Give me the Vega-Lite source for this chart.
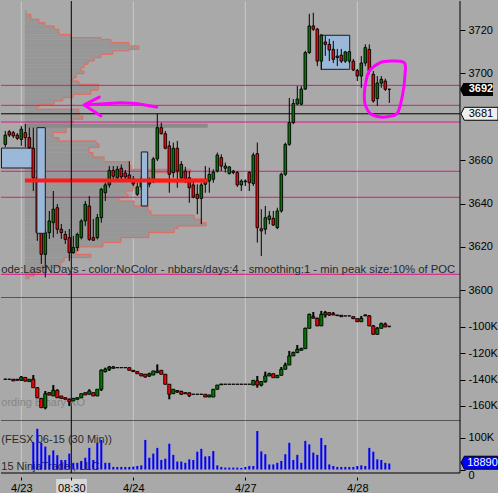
{
"$schema":"https://vega.github.io/schema/vega-lite/v6.json",
"padding":0,
"background":"#a9a9a9",
"bounds":"flush",
"spacing":0,
"config":{"view":{"fill":"#a9a9a9","stroke":null},"axis":{"labelFont":"Liberation Sans"},"text":{"font":"Liberation Sans"},"scale":{"continuousPadding":0}},
"resolve":{"scale":{"x":"independent","y":"independent"}},
"datasets":{
"bars":[
{"i":0,"o":3666.6,"h":3669.8,"l":3665.6,"c":3668.9,"do":-139.7,"dh":-139.5,"dl":-141.2,"dc":-141.0},
{"i":1,"o":3667.3,"h":3673.5,"l":3666.1,"c":3671.6,"do":-139.7,"dh":-139.3,"dl":-140.0,"dc":-139.7},
{"i":2,"o":3673.1,"h":3673.9,"l":3670.7,"c":3671.6,"do":-139.7,"dh":-139.5,"dl":-139.9,"dc":-139.7},
{"i":3,"o":3672.7,"h":3673.5,"l":3670.2,"c":3671.2,"do":-139.7,"dh":-139.5,"dl":-141.0,"dc":-141.0},
{"i":4,"o":3671.6,"h":3672.5,"l":3669.3,"c":3670.1,"do":-139.7,"dh":-139.5,"dl":-140.5,"dc":-140.5},
{"i":5,"o":3669.6,"h":3675.8,"l":3666.6,"c":3674.3,"do":-140.5,"dh":-137.2,"dl":-141.0,"dc":-138.0},
{"i":6,"o":3672.7,"h":3676.7,"l":3666.1,"c":3670.4,"do":-138.3,"dh":-138.0,"dl":-141.5,"dc":-141.0},
{"i":7,"o":3670.4,"h":3675.0,"l":3665.2,"c":3665.8,"do":-141.5,"dh":-139.7,"dl":-141.5,"dc":-139.7},
{"i":8,"o":3665.5,"h":3675.0,"l":3645.8,"c":3651.9,"do":-139.7,"dh":-136.5,"dl":-146.1,"dc":-146.1,"v":86},
{"i":9,"o":3651.9,"h":3655.0,"l":3622.8,"c":3626.6,"do":-146.1,"dh":-146.0,"dl":-154.0,"dc":-153.7,"v":128},
{"i":10,"o":3626.6,"h":3629.7,"l":3612.2,"c":3616.6,"do":-154.2,"dh":-154.0,"dl":-161.5,"dc":-161.3,"v":84},
{"i":11,"o":3616.6,"h":3628.0,"l":3606.0,"c":3626.6,"do":-161.3,"dh":-148.6,"dl":-162.5,"dc":-150.7,"v":72},
{"i":12,"o":3626.6,"h":3636.6,"l":3623.7,"c":3632.0,"do":-149.9,"dh":-149.5,"dl":-152.0,"dc":-151.6,"v":45},
{"i":13,"o":3631.2,"h":3645.8,"l":3624.3,"c":3637.4,"do":-152.4,"dh":-144.1,"dl":-152.4,"dc":-148.1,"v":60},
{"i":14,"o":3638.1,"h":3639.8,"l":3626.0,"c":3628.2,"do":-148.1,"dh":-147.3,"dl":-153.7,"dc":-153.7,"v":45},
{"i":15,"o":3628.2,"h":3630.6,"l":3623.7,"c":3626.6,"do":-152.4,"dh":-152.4,"dl":-154.2,"dc":-154.2,"v":30},
{"i":16,"o":3625.8,"h":3627.4,"l":3621.4,"c":3623.5,"do":-153.7,"dh":-153.7,"dl":-154.9,"dc":-154.9,"v":30},
{"i":17,"o":3624.3,"h":3628.3,"l":3613.5,"c":3617.4,"do":-154.9,"dh":-154.2,"dl":-160.0,"dc":-156.7,"v":50},
{"i":18,"o":3617.4,"h":3625.1,"l":3616.8,"c":3619.7,"do":-156.2,"dh":-154.2,"dl":-156.2,"dc":-154.2,"v":21},
{"i":19,"o":3619.7,"h":3626.6,"l":3618.1,"c":3625.8,"do":-154.9,"dh":-153.7,"dl":-154.9,"dc":-153.7,"v":21},
{"i":20,"o":3624.3,"h":3632.8,"l":3623.5,"c":3632.0,"do":-153.7,"dh":-150.7,"dl":-153.7,"dc":-150.7,"v":27},
{"i":21,"o":3632.0,"h":3641.2,"l":3629.7,"c":3639.7,"do":-149.9,"dh":-149.9,"dl":-151.6,"dc":-151.6,"v":37},
{"i":22,"o":3638.9,"h":3643.5,"l":3622.8,"c":3623.5,"do":-151.1,"dh":-147.3,"dl":-151.1,"dc":-148.6,"v":68},
{"i":23,"o":3624.3,"h":3632.9,"l":3622.8,"c":3623.1,"do":-149.9,"dh":-149.9,"dl":-152.4,"dc":-152.4,"v":30},
{"i":24,"o":3624.3,"h":3635.2,"l":3623.5,"c":3633.5,"do":-152.4,"dh":-147.3,"dl":-152.4,"dc":-147.3,"v":84},
{"i":25,"o":3633.5,"h":3647.3,"l":3631.2,"c":3646.6,"do":-147.3,"dh":-132.1,"dl":-148.6,"dc":-132.9,"v":93},
{"i":26,"o":3645.0,"h":3649.6,"l":3641.2,"c":3648.6,"do":-133.9,"dh":-130.9,"dl":-134.5,"dc":-132.1,"v":21},
{"i":27,"o":3648.6,"h":3657.3,"l":3647.3,"c":3655.3,"do":-132.1,"dh":-129.6,"dl":-133.4,"dc":-130.4,"v":21},
{"i":28,"o":3655.3,"h":3657.3,"l":3651.3,"c":3652.6,"do":-130.4,"dh":-129.6,"dl":-131.4,"dc":-131.4,"v":8},
{"i":29,"o":3651.9,"h":3657.3,"l":3650.8,"c":3655.8,"do":-130.9,"dh":-130.9,"dl":-130.9,"dc":-130.9,"v":8},
{"i":30,"o":3656.3,"h":3658.0,"l":3650.5,"c":3652.3,"do":-130.9,"dh":-130.9,"dl":-130.9,"dc":-130.9,"v":8},
{"i":31,"o":3654.1,"h":3655.5,"l":3651.0,"c":3652.3,"do":-130.9,"dh":-130.9,"dl":-130.9,"dc":-130.9,"v":8},
{"i":32,"o":3653.2,"h":3659.6,"l":3650.4,"c":3651.3,"do":-130.9,"dh":-130.9,"dl":-132.9,"dc":-132.9,"v":8},
{"i":33,"o":3651.3,"h":3652.7,"l":3648.1,"c":3649.0,"do":-132.9,"dh":-132.9,"dl":-133.9,"dc":-133.9,"v":9},
{"i":34,"o":3644.3,"h":3649.6,"l":3643.5,"c":3647.7,"do":-133.9,"dh":-133.9,"dl":-135.5,"dc":-135.5,"v":11},
{"i":35,"o":3647.7,"h":3652.5,"l":3646.0,"c":3651.3,"do":-135.5,"dh":-135.5,"dl":-137.2,"dc":-137.2,"v":13},
{"i":36,"o":3651.9,"h":3653.0,"l":3648.5,"c":3649.6,"do":-135.9,"dh":-135.9,"dl":-138.4,"dc":-138.0,"v":93},
{"i":37,"o":3649.0,"h":3652.0,"l":3647.5,"c":3650.4,"do":-137.2,"dh":-134.7,"dl":-138.0,"dc":-135.5,"v":37},
{"i":38,"o":3650.4,"h":3661.5,"l":3649.5,"c":3660.6,"do":-136.5,"dh":-133.4,"dl":-136.5,"dc":-133.4,"v":50},
{"i":39,"o":3660.6,"h":3681.4,"l":3659.6,"c":3675.0,"do":-134.7,"dh":-128.4,"dl":-135.0,"dc":-133.4,"v":68},
{"i":40,"o":3675.0,"h":3677.3,"l":3671.9,"c":3672.2,"do":-132.9,"dh":-132.9,"dl":-135.9,"dc":-135.9,"v":30},
{"i":41,"o":3672.2,"h":3673.5,"l":3665.0,"c":3665.5,"do":-135.9,"dh":-135.9,"dl":-143.5,"dc":-143.5,"v":34},
{"i":42,"o":3666.6,"h":3668.9,"l":3645.0,"c":3653.5,"do":-143.5,"dh":-143.5,"dl":-154.9,"dc":-151.1,"v":81},
{"i":43,"o":3654.3,"h":3668.1,"l":3651.9,"c":3665.5,"do":-150.7,"dh":-147.3,"dl":-150.7,"dc":-147.3,"v":46},
{"i":44,"o":3665.5,"h":3668.9,"l":3647.3,"c":3655.0,"do":-149.4,"dh":-148.0,"dl":-150.0,"dc":-148.3,"v":25},
{"i":45,"o":3651.9,"h":3659.6,"l":3650.4,"c":3658.1,"do":-149.0,"dh":-148.3,"dl":-151.6,"dc":-151.1,"v":25},
{"i":46,"o":3655.0,"h":3657.0,"l":3649.5,"c":3651.3,"do":-149.9,"dh":-149.9,"dl":-150.7,"dc":-150.7,"v":21},
{"i":47,"o":3651.9,"h":3655.0,"l":3640.4,"c":3647.3,"do":-150.0,"dh":-149.9,"dl":-153.2,"dc":-152.0,"v":32},
{"i":48,"o":3648.6,"h":3651.2,"l":3642.4,"c":3643.0,"do":-151.1,"dh":-151.1,"dl":-151.1,"dc":-151.1,"v":30},
{"i":49,"o":3644.3,"h":3648.9,"l":3635.1,"c":3642.4,"do":-151.1,"dh":-151.1,"dl":-151.1,"dc":-151.1,"v":56},
{"i":50,"o":3642.4,"h":3649.6,"l":3630.5,"c":3648.6,"do":-151.1,"dh":-151.1,"dl":-151.1,"dc":-151.1,"v":65},
{"i":51,"o":3648.9,"h":3657.3,"l":3645.0,"c":3651.2,"do":-151.1,"dh":-151.1,"dl":-153.2,"dc":-153.2,"v":41},
{"i":52,"o":3650.4,"h":3656.6,"l":3645.0,"c":3653.5,"do":-153.2,"dh":-151.6,"dl":-153.2,"dc":-151.6,"v":42},
{"i":53,"o":3651.2,"h":3655.8,"l":3649.6,"c":3654.6,"do":-153.2,"dh":-147.3,"dl":-153.2,"dc":-147.3,"v":58},
{"i":54,"o":3655.0,"h":3663.5,"l":3654.3,"c":3662.4,"do":-147.3,"dh":-144.1,"dl":-147.3,"dc":-144.1,"v":13},
{"i":55,"o":3661.2,"h":3662.7,"l":3655.0,"c":3657.3,"do":-143.9,"dh":-143.3,"dl":-143.9,"dc":-143.3,"v":8},
{"i":56,"o":3656.3,"h":3658.9,"l":3654.3,"c":3657.3,"do":-143.5,"dh":-143.5,"dl":-143.5,"dc":-143.5,"v":6},
{"i":57,"o":3653.8,"h":3657.3,"l":3653.5,"c":3656.9,"do":-143.5,"dh":-143.5,"dl":-143.5,"dc":-143.5,"v":6},
{"i":58,"o":3655.0,"h":3655.5,"l":3653.5,"c":3654.3,"do":-143.5,"dh":-143.5,"dl":-143.5,"dc":-143.5,"v":6},
{"i":59,"o":3654.3,"h":3655.0,"l":3647.7,"c":3648.6,"do":-143.5,"dh":-143.5,"dl":-143.5,"dc":-143.5,"v":6},
{"i":60,"o":3648.6,"h":3651.2,"l":3645.8,"c":3650.4,"do":-143.5,"dh":-143.5,"dl":-143.5,"dc":-143.5,"v":5},
{"i":61,"o":3650.4,"h":3651.2,"l":3648.1,"c":3650.1,"do":-143.5,"dh":-143.5,"dl":-143.5,"dc":-143.5,"v":8},
{"i":62,"o":3654.3,"h":3655.0,"l":3645.8,"c":3649.6,"do":-143.5,"dh":-143.5,"dl":-143.5,"dc":-143.5,"v":11},
{"i":63,"o":3649.2,"h":3663.5,"l":3648.1,"c":3662.4,"do":-144.1,"dh":-140.5,"dl":-144.1,"dc":-140.5,"v":11},
{"i":64,"o":3663.0,"h":3668.1,"l":3622.0,"c":3628.9,"do":-141.0,"dh":-137.2,"dl":-146.1,"dc":-144.1,"v":121},
{"i":65,"o":3628.4,"h":3637.4,"l":3615.8,"c":3627.4,"do":-144.1,"dh":-141.0,"dl":-145.1,"dc":-141.5,"v":57},
{"i":66,"o":3628.2,"h":3638.9,"l":3625.8,"c":3633.5,"do":-141.5,"dh":-133.9,"dl":-142.3,"dc":-137.2,"v":48},
{"i":67,"o":3632.7,"h":3636.6,"l":3630.5,"c":3634.3,"do":-137.2,"dh":-134.7,"dl":-137.2,"dc":-135.5,"v":16},
{"i":68,"o":3633.2,"h":3636.6,"l":3629.7,"c":3630.1,"do":-135.5,"dh":-135.5,"dl":-138.5,"dc":-138.5,"v":16},
{"i":69,"o":3628.9,"h":3638.1,"l":3628.2,"c":3636.6,"do":-138.5,"dh":-136.7,"dl":-138.5,"dc":-136.7,"v":21},
{"i":70,"o":3636.6,"h":3654.3,"l":3635.8,"c":3653.5,"do":-136.7,"dh":-130.4,"dl":-136.7,"dc":-132.1,"v":27},
{"i":71,"o":3653.5,"h":3668.1,"l":3652.7,"c":3667.3,"do":-132.1,"dh":-127.1,"dl":-132.1,"dc":-128.9,"v":48},
{"i":72,"o":3667.3,"h":3688.7,"l":3666.6,"c":3677.3,"do":-128.9,"dh":-118.2,"dl":-128.9,"dc":-122.0,"v":84},
{"i":73,"o":3677.3,"h":3688.2,"l":3676.6,"c":3686.1,"do":-122.0,"dh":-118.7,"dl":-122.0,"dc":-119.5,"v":30},
{"i":74,"o":3685.9,"h":3694.2,"l":3685.4,"c":3688.2,"do":-119.5,"dh":-113.7,"dl":-119.5,"dc":-116.9,"v":46},
{"i":75,"o":3685.8,"h":3694.2,"l":3685.4,"c":3692.8,"do":-117.7,"dh":-115.7,"dl":-117.7,"dc":-116.5,"v":21},
{"i":76,"o":3692.8,"h":3710.4,"l":3692.4,"c":3709.6,"do":-116.5,"dh":-100.5,"dl":-116.5,"dc":-101.0,"v":90},
{"i":77,"o":3709.6,"h":3727.5,"l":3709.0,"c":3721.9,"do":-101.0,"dh":-89.9,"dl":-101.0,"dc":-90.4,"v":79},
{"i":78,"o":3721.9,"h":3728.0,"l":3719.6,"c":3720.4,"do":-92.2,"dh":-88.6,"dl":-93.4,"dc":-93.4,"v":53},
{"i":79,"o":3720.4,"h":3721.0,"l":3703.4,"c":3705.7,"do":-93.4,"dh":-92.9,"dl":-99.2,"dc":-99.2,"v":46},
{"i":80,"o":3705.7,"h":3718.2,"l":3701.6,"c":3717.7,"do":-99.2,"dh":-87.8,"dl":-99.2,"dc":-90.4,"v":99},
{"i":81,"o":3714.5,"h":3717.3,"l":3708.1,"c":3713.4,"do":-90.9,"dh":-87.8,"dl":-92.9,"dc":-89.1,"v":77},
{"i":82,"o":3713.4,"h":3715.9,"l":3705.7,"c":3710.8,"do":-89.1,"dh":-89.1,"dl":-91.6,"dc":-90.9,"v":16},
{"i":83,"o":3711.1,"h":3715.0,"l":3704.8,"c":3706.5,"do":-90.0,"dh":-88.6,"dl":-90.9,"dc":-90.9,"v":11},
{"i":84,"o":3707.3,"h":3711.3,"l":3703.4,"c":3708.0,"do":-90.9,"dh":-90.9,"dl":-91.4,"dc":-91.4,"v":8},
{"i":85,"o":3708.4,"h":3711.3,"l":3704.8,"c":3705.7,"do":-91.1,"dh":-91.1,"dl":-92.2,"dc":-92.2,"v":8},
{"i":86,"o":3705.7,"h":3710.4,"l":3704.8,"c":3709.9,"do":-91.6,"dh":-91.6,"dl":-91.6,"dc":-91.6,"v":8},
{"i":87,"o":3705.7,"h":3710.4,"l":3704.8,"c":3710.0,"do":-91.6,"dh":-91.6,"dl":-91.6,"dc":-91.6,"v":8},
{"i":88,"o":3705.7,"h":3706.7,"l":3701.1,"c":3701.6,"do":-92.2,"dh":-92.2,"dl":-93.7,"dc":-93.7,"v":8},
{"i":89,"o":3701.4,"h":3702.1,"l":3696.5,"c":3698.8,"do":-93.7,"dh":-93.7,"dl":-96.0,"dc":-96.0,"v":11},
{"i":90,"o":3698.8,"h":3708.0,"l":3693.4,"c":3704.8,"do":-96.0,"dh":-91.6,"dl":-96.0,"dc":-93.4,"v":13},
{"i":91,"o":3704.8,"h":3713.4,"l":3703.4,"c":3711.9,"do":-91.6,"dh":-90.4,"dl":-91.6,"dc":-90.9,"v":11},
{"i":92,"o":3711.1,"h":3713.4,"l":3699.6,"c":3701.1,"do":-91.6,"dh":-90.9,"dl":-99.2,"dc":-99.2,"v":68},
{"i":93,"o":3699.6,"h":3701.1,"l":3686.5,"c":3687.3,"do":-99.2,"dh":-98.5,"dl":-105.6,"dc":-105.6,"v":56},
{"i":94,"o":3688.4,"h":3698.8,"l":3685.0,"c":3695.6,"do":-105.6,"dh":-100.0,"dl":-105.6,"dc":-101.0,"v":32},
{"i":95,"o":3695.5,"h":3698.8,"l":3693.4,"c":3697.3,"do":-101.0,"dh":-96.7,"dl":-101.0,"dc":-97.5,"v":30},
{"i":96,"o":3696.5,"h":3697.6,"l":3691.9,"c":3692.7,"do":-97.9,"dh":-96.7,"dl":-100.0,"dc":-100.0,"v":21},
{"i":97,"o":3692.7,"h":3692.9,"l":3686.4,"c":3692.7,"do":-99.5,"dh":-99.2,"dl":-100.3,"dc":-99.5,"v":18.89}
],
"profile":[
{"lo":3605.1,"hi":3606.6,"len":6.9},{"lo":3606.6,"hi":3608.2,"len":8.2},{"lo":3608.2,"hi":3610.5,"len":9.9},{"lo":3610.5,"hi":3613.2,"len":14.9},{"lo":3613.2,"hi":3615.1,"len":15.7},{"lo":3615.1,"hi":3616.6,"len":22.4},{"lo":3616.6,"hi":3618.1,"len":18.7},{"lo":3618.1,"hi":3620.0,"len":19.4},{"lo":3620.0,"hi":3622.0,"len":25.4},{"lo":3622.0,"hi":3624.3,"len":29.9},{"lo":3624.3,"hi":3626.6,"len":36.9},{"lo":3626.6,"hi":3628.6,"len":43.2},{"lo":3628.6,"hi":3629.7,"len":44.2},{"lo":3629.7,"hi":3631.2,"len":51.2},{"lo":3631.2,"hi":3632.8,"len":49.9},{"lo":3632.8,"hi":3634.7,"len":48.2},{"lo":3634.7,"hi":3636.6,"len":37.4},{"lo":3636.6,"hi":3638.9,"len":36.7},{"lo":3638.9,"hi":3641.2,"len":33.2},{"lo":3641.2,"hi":3642.7,"len":29.4},{"lo":3642.7,"hi":3644.3,"len":31.7},{"lo":3644.3,"hi":3645.8,"len":31.2},{"lo":3645.8,"hi":3647.3,"len":32.9},{"lo":3647.3,"hi":3649.6,"len":33.2},{"lo":3649.6,"hi":3651.3,"len":51.7},{"lo":3651.3,"hi":3654.2,"len":37.4},{"lo":3654.2,"hi":3655.8,"len":47.4},{"lo":3655.8,"hi":3657.8,"len":32.4},{"lo":3657.8,"hi":3659.3,"len":31.7},{"lo":3659.3,"hi":3661.5,"len":25.7},{"lo":3661.5,"hi":3663.5,"len":22.9},{"lo":3663.5,"hi":3665.8,"len":21.9},{"lo":3665.8,"hi":3667.6,"len":24.4},{"lo":3667.6,"hi":3668.9,"len":23.7},{"lo":3668.9,"hi":3670.4,"len":14.4},{"lo":3670.4,"hi":3672.7,"len":12.9},{"lo":3672.7,"hi":3675.8,"len":16.2},{"lo":3675.8,"hi":3678.9,"len":17.9},{"lo":3678.9,"hi":3680.4,"len":20.4},{"lo":3680.4,"hi":3683.5,"len":19.4},{"lo":3683.5,"hi":3684.5,"len":8.7},{"lo":3684.5,"hi":3685.8,"len":9.4},{"lo":3685.8,"hi":3687.3,"len":13.2},{"lo":3687.3,"hi":3688.8,"len":15.4},{"lo":3688.8,"hi":3690.4,"len":17.9},{"lo":3690.4,"hi":3692.2,"len":22.4},{"lo":3692.2,"hi":3693.8,"len":24.2},{"lo":3693.8,"hi":3695.0,"len":24.4},{"lo":3695.0,"hi":3696.5,"len":19.4},{"lo":3696.5,"hi":3698.0,"len":17.9},{"lo":3698.0,"hi":3699.9,"len":18.7},{"lo":3699.9,"hi":3701.1,"len":20.7},{"lo":3701.1,"hi":3702.7,"len":19.9},{"lo":3702.7,"hi":3704.2,"len":20.7},{"lo":3704.2,"hi":3705.7,"len":21.7},{"lo":3705.7,"hi":3707.3,"len":23.2},{"lo":3707.3,"hi":3708.8,"len":24.9},{"lo":3708.8,"hi":3710.4,"len":27.9},{"lo":3710.4,"hi":3711.1,"len":31.9},{"lo":3711.1,"hi":3712.7,"len":34.4},{"lo":3712.7,"hi":3714.2,"len":31.9},{"lo":3714.2,"hi":3715.7,"len":27.4},{"lo":3715.7,"hi":3716.5,"len":24.9},{"lo":3716.5,"hi":3718.0,"len":17.4},{"lo":3718.0,"hi":3720.4,"len":14.4},{"lo":3720.4,"hi":3721.9,"len":13.2},{"lo":3721.9,"hi":3723.4,"len":10.9},{"lo":3723.4,"hi":3725.0,"len":9.4},{"lo":3725.0,"hi":3727.3,"len":7.4},{"lo":3727.3,"hi":3729.1,"len":6.4}
],
"rects":[
{"n":"A","x1":0.05,"x2":7.85,"p1":3656.4,"p2":3665.6},
{"n":"B","x1":8.9,"x2":11.0,"p1":3626.3,"p2":3675.0},
{"n":"C","x1":35.0,"x2":36.6,"p1":3638.9,"p2":3663.8},
{"n":"D","x1":80.0,"x2":87.1,"p1":3701.9,"p2":3717.6}
],
"days":[{"g":5},{"g":33},{"g":61},{"g":89}]
},
"vconcat":[
{
"width":459,"height":297,
"layer":[
{"data":{"name":"days"},"mark":{"type":"rule","color":"#c9c9c9","strokeWidth":1},
 "encoding":{"x":{"field":"g","type":"quantitative","scale":{"domain":[-0.075,114.675],"nice":false,"zero":false,"padding":0},"axis":null}}},
{"data":{"name":"profile"},"mark":{"type":"rect","fill":"#979797","clip":true},
 "encoding":{"x":{"field":"len","type":"quantitative","scale":{"domain":[-0.075,114.675],"nice":false,"zero":false,"padding":0},"axis":null},"x2":{"datum":5.9},
 "y":{"field":"lo","type":"quantitative","scale":{"domain":[3596.47,3733.4],"nice":false,"zero":false},
  "axis":{"orient":"right","values":[3600,3620,3640,3660,3700,3720],"title":null,"grid":false,"domain":false,"tickSize":5,"tickColor":"#000000","labelPadding":3,"labelFontSize":11,"labelColor":"#000000","format":"d"}},
 "y2":{"field":"hi"}}},
{"data":{"name":"profile"},
 "mark":{"type":"line","color":"#e8685a","strokeWidth":1,"interpolate":"step-before","clip":true},
 "encoding":{"x":{"field":"len","type":"quantitative","scale":{"domain":[-0.075,114.675],"nice":false,"zero":false,"padding":0},"axis":null},
 "y":{"field":"lo","type":"quantitative","scale":{"domain":[3596.47,3733.4],"nice":false,"zero":false},
  "axis":{"orient":"right","values":[3600,3620,3640,3660,3700,3720],"title":null,"grid":false,"domain":false,"tickSize":5,"tickColor":"#000000","labelPadding":3,"labelFontSize":11,"labelColor":"#000000","format":"d"}},
 "order":{"field":"lo","type":"quantitative"}}},
{"data":{"name":"rects"},"transform":[{"filter":"datum.n == 'A' || datum.n == 'D'"}],
 "mark":{"type":"rect","fill":"#9cb8d8","stroke":"#1a1a1a","strokeWidth":1,"clip":true},
 "encoding":{"x":{"field":"x1","type":"quantitative","scale":{"domain":[-0.075,114.675],"nice":false,"zero":false,"padding":0},"axis":null},"x2":{"field":"x2"},
 "y":{"field":"p1","type":"quantitative","scale":{"domain":[3596.47,3733.4],"nice":false,"zero":false},
  "axis":{"orient":"right","values":[3600,3620,3640,3660,3700,3720],"title":null,"grid":false,"domain":false,"tickSize":5,"tickColor":"#000000","labelPadding":3,"labelFontSize":11,"labelColor":"#000000","format":"d"}},"y2":{"field":"p2"}}},
{"data":{"values":[{"p":3675.9,"a":5.9,"b":51.6}]},"mark":{"type":"rule","color":"#8a8a8a","strokeWidth":4},
 "encoding":{"x":{"field":"a","type":"quantitative","scale":{"domain":[-0.075,114.675],"nice":false,"zero":false,"padding":0},"axis":null},"x2":{"field":"b"},
 "y":{"field":"p","type":"quantitative","scale":{"domain":[3596.47,3733.4],"nice":false,"zero":false},
  "axis":{"orient":"right","values":[3600,3620,3640,3660,3700,3720],"title":null,"grid":false,"domain":false,"tickSize":5,"tickColor":"#000000","labelPadding":3,"labelFontSize":11,"labelColor":"#000000","format":"d"}}}},
{"data":{"values":[{"p":3694.5},{"p":3685.3},{"p":3677.6},{"p":3654.9},{"p":3642.9},{"p":3607.4}]},
 "mark":{"type":"rule","color":"#e0158a","strokeWidth":1},
 "encoding":{"y":{"field":"p","type":"quantitative","scale":{"domain":[3596.47,3733.4],"nice":false,"zero":false},
  "axis":{"orient":"right","values":[3600,3620,3640,3660,3700,3720],"title":null,"grid":false,"domain":false,"tickSize":5,"tickColor":"#000000","labelPadding":3,"labelFontSize":11,"labelColor":"#000000","format":"d"}}}},
{"data":{"values":[{"p":3681.4},{"p":3596.47}]},"mark":{"type":"rule","color":"#000000","strokeWidth":1},
 "encoding":{"y":{"field":"p","type":"quantitative","scale":{"domain":[3596.47,3733.4],"nice":false,"zero":false},
  "axis":{"orient":"right","values":[3600,3620,3640,3660,3700,3720],"title":null,"grid":false,"domain":false,"tickSize":5,"tickColor":"#000000","labelPadding":3,"labelFontSize":11,"labelColor":"#000000","format":"d"}}}},
{"data":{"values":[{"t":114.675}]},"mark":{"type":"rule","color":"#000000","strokeWidth":1},
 "encoding":{"x":{"field":"t","type":"quantitative","scale":{"domain":[-0.075,114.675],"nice":false,"zero":false,"padding":0},"axis":null}}},
{"data":{"name":"bars"},"transform":[{"filter":"datum.i > 0"}],"mark":{"type":"rule","color":"#000000","strokeWidth":1,"clip":true},
 "encoding":{"x":{"field":"i","type":"quantitative","scale":{"domain":[-0.075,114.675],"nice":false,"zero":false,"padding":0},"axis":null},
 "y":{"field":"l","type":"quantitative","scale":{"domain":[3596.47,3733.4],"nice":false,"zero":false},
  "axis":{"orient":"right","values":[3600,3620,3640,3660,3700,3720],"title":null,"grid":false,"domain":false,"tickSize":5,"tickColor":"#000000","labelPadding":3,"labelFontSize":11,"labelColor":"#000000","format":"d"}},"y2":{"field":"h"}}},
{"data":{"name":"bars"},"transform":[{"filter":"datum.i > 0"}],"mark":{"type":"bar","size":2.6,"stroke":"#000000","strokeWidth":0.9,"clip":true},
 "encoding":{"x":{"field":"i","type":"quantitative","scale":{"domain":[-0.075,114.675],"nice":false,"zero":false,"padding":0},"axis":null},
 "y":{"field":"o","type":"quantitative","scale":{"domain":[3596.47,3733.4],"nice":false,"zero":false},
  "axis":{"orient":"right","values":[3600,3620,3640,3660,3700,3720],"title":null,"grid":false,"domain":false,"tickSize":5,"tickColor":"#000000","labelPadding":3,"labelFontSize":11,"labelColor":"#000000","format":"d"}},"y2":{"field":"c"},
 "color":{"condition":{"test":"datum.c > datum.o","value":"#007a00"},"value":"#ff0000"}}},
{"data":{"name":"rects"},"transform":[{"filter":"datum.n == 'B' || datum.n == 'C'"}],
 "mark":{"type":"rect","fill":"#9cb8d8","stroke":"#1a1a1a","strokeWidth":1,"clip":true},
 "encoding":{"x":{"field":"x1","type":"quantitative","scale":{"domain":[-0.075,114.675],"nice":false,"zero":false,"padding":0},"axis":null},"x2":{"field":"x2"},
 "y":{"field":"p1","type":"quantitative","scale":{"domain":[3596.47,3733.4],"nice":false,"zero":false},
  "axis":{"orient":"right","values":[3600,3620,3640,3660,3700,3720],"title":null,"grid":false,"domain":false,"tickSize":5,"tickColor":"#000000","labelPadding":3,"labelFontSize":11,"labelColor":"#000000","format":"d"}},"y2":{"field":"p2"}}},
{"data":{"values":[{"p":3650.6,"a":5.9,"b":51.6}]},"mark":{"type":"rule","color":"#ff1a1a","strokeWidth":4},
 "encoding":{"x":{"field":"a","type":"quantitative","scale":{"domain":[-0.075,114.675],"nice":false,"zero":false,"padding":0},"axis":null},"x2":{"field":"b"},
 "y":{"field":"p","type":"quantitative","scale":{"domain":[3596.47,3733.4],"nice":false,"zero":false},
  "axis":{"orient":"right","values":[3600,3620,3640,3660,3700,3720],"title":null,"grid":false,"domain":false,"tickSize":5,"tickColor":"#000000","labelPadding":3,"labelFontSize":11,"labelColor":"#000000","format":"d"}}}},
{"data":{"values":[{"t":17.5}]},"mark":{"type":"rule","color":"#000000","strokeWidth":1},
 "encoding":{"x":{"field":"t","type":"quantitative","scale":{"domain":[-0.075,114.675],"nice":false,"zero":false,"padding":0},"axis":null}}},
{"data":{"values":[{"x":0,"p":3609.6,"s":"ode:LastNDays - color:NoColor - nbbars/days:4 - smoothing:1 - min peak size:10% of POC"}]},
 "mark":{"type":"text","align":"left","baseline":"middle","fontSize":11.3,"color":"#2a2a2a","clip":true},
 "encoding":{"x":{"field":"x","type":"quantitative","scale":{"domain":[-0.075,114.675],"nice":false,"zero":false,"padding":0},"axis":null},
 "y":{"field":"p","type":"quantitative","scale":{"domain":[3596.47,3733.4],"nice":false,"zero":false},
  "axis":{"orient":"right","values":[3600,3620,3640,3660,3700,3720],"title":null,"grid":false,"domain":false,"tickSize":5,"tickColor":"#000000","labelPadding":3,"labelFontSize":11,"labelColor":"#000000","format":"d"}},"text":{"field":"s"}}},
{"data":{"values":[
 {"s":"shaft","o":0,"x":20.75,"p":3685.5},{"s":"shaft","o":1,"x":24.9,"p":3685.9},{"s":"shaft","o":2,"x":29.9,"p":3686.5},{"s":"shaft","o":3,"x":33.7,"p":3686.1},{"s":"shaft","o":4,"x":38.85,"p":3684.5},
 {"s":"head","o":0,"x":24.5,"p":3689.1},{"s":"head","o":1,"x":20.75,"p":3685.5},{"s":"head","o":2,"x":24.9,"p":3680.4}]},
 "mark":{"type":"line","color":"#ff00ff","strokeWidth":3,"strokeCap":"round","strokeJoin":"round"},
 "encoding":{"x":{"field":"x","type":"quantitative","scale":{"domain":[-0.075,114.675],"nice":false,"zero":false,"padding":0},"axis":null},
 "y":{"field":"p","type":"quantitative","scale":{"domain":[3596.47,3733.4],"nice":false,"zero":false},
  "axis":{"orient":"right","values":[3600,3620,3640,3660,3700,3720],"title":null,"grid":false,"domain":false,"tickSize":5,"tickColor":"#000000","labelPadding":3,"labelFontSize":11,"labelColor":"#000000","format":"d"}},
 "detail":{"field":"s","type":"nominal"},"order":{"field":"o","type":"quantitative"}}},
{"data":{"values":[
 {"o":0,"x":92.0,"p":3701.1},{"o":1,"x":94.6,"p":3704.9},{"o":2,"x":97.4,"p":3705.7},{"o":3,"x":100.75,"p":3704.9},{"o":4,"x":100.9,"p":3698.8},{"o":5,"x":100.35,"p":3690.4},{"o":6,"x":99.1,"p":3681.9},{"o":7,"x":96.9,"p":3680.2},{"o":8,"x":94.9,"p":3679.9},{"o":9,"x":92.4,"p":3681.3},{"o":10,"x":91.0,"p":3685.5},{"o":11,"x":90.75,"p":3690.4},{"o":12,"x":91.2,"p":3696.5}]},
 "mark":{"type":"line","color":"#ff00ff","strokeWidth":3,"interpolate":"cardinal-closed"},
 "encoding":{"x":{"field":"x","type":"quantitative","scale":{"domain":[-0.075,114.675],"nice":false,"zero":false,"padding":0},"axis":null},
 "y":{"field":"p","type":"quantitative","scale":{"domain":[3596.47,3733.4],"nice":false,"zero":false},
  "axis":{"orient":"right","values":[3600,3620,3640,3660,3700,3720],"title":null,"grid":false,"domain":false,"tickSize":5,"tickColor":"#000000","labelPadding":3,"labelFontSize":11,"labelColor":"#000000","format":"d"}},
 "order":{"field":"o","type":"quantitative"}}},
{"data":{"values":[{"x":118.8,"p":3692.6}]},
 "mark":{"type":"point","shape":"M-1,0L-0.8,-0.4L1,-0.4L1,0.4L-0.8,0.4Z","filled":true,"color":"#000000","opacity":1,"size":1089,"clip":false},
 "encoding":{"x":{"field":"x","type":"quantitative","scale":{"domain":[-0.075,114.675],"nice":false,"zero":false,"padding":0},"axis":null},
 "y":{"field":"p","type":"quantitative","scale":{"domain":[3596.47,3733.4],"nice":false,"zero":false},
  "axis":{"orient":"right","values":[3600,3620,3640,3660,3700,3720],"title":null,"grid":false,"domain":false,"tickSize":5,"tickColor":"#000000","labelPadding":3,"labelFontSize":11,"labelColor":"#000000","format":"d"}}}},
{"data":{"values":[{"x":119.55,"p":3681.4}]},
 "mark":{"type":"point","shape":"M-1,0L-0.82,-0.35L1,-0.35L1,0.35L-0.82,0.35Z","filled":true,"fill":"#efefef","stroke":"#000000","strokeWidth":1,"opacity":1,"size":1369,"clip":false},
 "encoding":{"x":{"field":"x","type":"quantitative","scale":{"domain":[-0.075,114.675],"nice":false,"zero":false,"padding":0},"axis":null},
 "y":{"field":"p","type":"quantitative","scale":{"domain":[3596.47,3733.4],"nice":false,"zero":false},
  "axis":{"orient":"right","values":[3600,3620,3640,3660,3700,3720],"title":null,"grid":false,"domain":false,"tickSize":5,"tickColor":"#000000","labelPadding":3,"labelFontSize":11,"labelColor":"#000000","format":"d"}}}},
{"data":{"values":[{"x":119.9,"p":3692.6,"s":"3692"}]},
 "mark":{"type":"text","align":"center","baseline":"middle","fontSize":11,"fontWeight":"bold","color":"#ffffff","clip":false},
 "encoding":{"x":{"field":"x","type":"quantitative","scale":{"domain":[-0.075,114.675],"nice":false,"zero":false,"padding":0},"axis":null},
 "y":{"field":"p","type":"quantitative","scale":{"domain":[3596.47,3733.4],"nice":false,"zero":false},
  "axis":{"orient":"right","values":[3600,3620,3640,3660,3700,3720],"title":null,"grid":false,"domain":false,"tickSize":5,"tickColor":"#000000","labelPadding":3,"labelFontSize":11,"labelColor":"#000000","format":"d"}},
 "text":{"field":"s"}}},
{"data":{"values":[{"x":119.9,"p":3681.4,"s":"3681"}]},
 "mark":{"type":"text","align":"center","baseline":"middle","fontSize":11,"color":"#000000","clip":false},
 "encoding":{"x":{"field":"x","type":"quantitative","scale":{"domain":[-0.075,114.675],"nice":false,"zero":false,"padding":0},"axis":null},
 "y":{"field":"p","type":"quantitative","scale":{"domain":[3596.47,3733.4],"nice":false,"zero":false},
  "axis":{"orient":"right","values":[3600,3620,3640,3660,3700,3720],"title":null,"grid":false,"domain":false,"tickSize":5,"tickColor":"#000000","labelPadding":3,"labelFontSize":11,"labelColor":"#000000","format":"d"}},
 "text":{"field":"s"}}}
]
},
{
"width":459,"height":123,
"layer":[
{"data":{"name":"days"},"mark":{"type":"rule","color":"#c9c9c9","strokeWidth":1},
 "encoding":{"x":{"field":"g","type":"quantitative","scale":{"domain":[-0.075,114.675],"nice":false,"zero":false,"padding":0},"axis":null}}},
{"data":{"values":[{"t":17.5},{"t":114.675}]},"mark":{"type":"rule","color":"#000000","strokeWidth":1},
 "encoding":{"x":{"field":"t","type":"quantitative","scale":{"domain":[-0.075,114.675],"nice":false,"zero":false,"padding":0},"axis":null}}},
{"data":{"values":[{"p":-171.4}]},"mark":{"type":"rule","color":"#000000","strokeWidth":1},
 "encoding":{"y":{"field":"p","type":"quantitative","scale":{"domain":[-171.4,-78.0],"nice":false,"zero":false},
  "axis":{"orient":"right","values":[-160,-140,-120,-100],"labelExpr":"datum.value + 'K'","title":null,"grid":false,"domain":false,"tickSize":5,"tickColor":"#000000","labelPadding":3,"labelFontSize":11,"labelColor":"#000000"}}}},
{"data":{"values":[{"x":0,"p":-157.5,"s":"ording Binary KO"}]},
 "mark":{"type":"text","align":"left","baseline":"middle","fontSize":11,"color":"#858585","clip":true},
 "encoding":{"x":{"field":"x","type":"quantitative","scale":{"domain":[-0.075,114.675],"nice":false,"zero":false,"padding":0},"axis":null},
 "y":{"field":"p","type":"quantitative","scale":{"domain":[-171.4,-78.0],"nice":false,"zero":false},
  "axis":{"orient":"right","values":[-160,-140,-120,-100],"labelExpr":"datum.value + 'K'","title":null,"grid":false,"domain":false,"tickSize":5,"tickColor":"#000000","labelPadding":3,"labelFontSize":11,"labelColor":"#000000"}},"text":{"field":"s"}}},
{"data":{"name":"bars"},"transform":[{"filter":"datum.i > 0"}],"mark":{"type":"rule","color":"#000000","strokeWidth":2,"clip":true},
 "encoding":{"x":{"field":"i","type":"quantitative","scale":{"domain":[-0.075,114.675],"nice":false,"zero":false,"padding":0},"axis":null},
 "y":{"field":"dl","type":"quantitative","scale":{"domain":[-171.4,-78.0],"nice":false,"zero":false},
  "axis":{"orient":"right","values":[-160,-140,-120,-100],"labelExpr":"datum.value + 'K'","title":null,"grid":false,"domain":false,"tickSize":5,"tickColor":"#000000","labelPadding":3,"labelFontSize":11,"labelColor":"#000000"}},
 "y2":{"field":"dh"}}},
{"data":{"name":"bars"},"transform":[{"filter":"datum.i > 0"}],"mark":{"type":"bar","size":3.1,"stroke":"#000000","strokeWidth":0.9,"clip":true},
 "encoding":{"x":{"field":"i","type":"quantitative","scale":{"domain":[-0.075,114.675],"nice":false,"zero":false,"padding":0},"axis":null},
 "y":{"field":"do","type":"quantitative","scale":{"domain":[-171.4,-78.0],"nice":false,"zero":false},
  "axis":{"orient":"right","values":[-160,-140,-120,-100],"labelExpr":"datum.value + 'K'","title":null,"grid":false,"domain":false,"tickSize":5,"tickColor":"#000000","labelPadding":3,"labelFontSize":11,"labelColor":"#000000"}},"y2":{"field":"dc"},
 "color":{"condition":{"test":"datum.dc > datum.do","value":"#007a00"},"value":"#ff0000"}}}
]
},
{
"width":459,"height":52,
"layer":[
{"data":{"name":"days"},"mark":{"type":"rule","color":"#c9c9c9","strokeWidth":1},
 "encoding":{"x":{"field":"g","type":"quantitative","scale":{"domain":[-0.075,114.675],"nice":false,"zero":false,"padding":0},
  "axis":{"values":[5,17.5,33,61,89],"labelExpr":"datum.value == 5 ? '4/23' : datum.value == 17.5 ? '08:30' : datum.value == 33 ? '4/24' : datum.value == 61 ? '4/27' : '4/28'","title":null,"grid":false,"domain":false,"tickSize":3,"tickColor":"#000000","offset":4,"labelPadding":2,"labelFontSize":11,"labelColor":"#000000","labelFlush":false,"labelOverlap":false,"zindex":1}}}},
{"data":{"values":[{"a":13.7,"b":21.4,"p1":-29.9,"p2":-73.9}]},"mark":{"type":"rect","fill":"#d6d6d6","clip":false},
 "encoding":{"x":{"field":"a","type":"quantitative","scale":{"domain":[-0.075,114.675],"nice":false,"zero":false,"padding":0},
  "axis":{"values":[5,17.5,33,61,89],"labelExpr":"datum.value == 5 ? '4/23' : datum.value == 17.5 ? '08:30' : datum.value == 33 ? '4/24' : datum.value == 61 ? '4/27' : '4/28'","title":null,"grid":false,"domain":false,"tickSize":3,"tickColor":"#000000","offset":4,"labelPadding":2,"labelFontSize":11,"labelColor":"#000000","labelFlush":false,"labelOverlap":false,"zindex":1}},"x2":{"field":"b"},
 "y":{"field":"p1","type":"quantitative","scale":{"domain":[-11,152.5],"nice":false,"zero":false},
  "axis":{"orient":"right","values":[0,100],"labelExpr":"datum.value == 0 ? '0' : datum.value + 'K'","labelBaseline":{"condition":{"test":"datum.value == 0","value":"top"},"value":"middle"},"title":null,"grid":false,"domain":false,"tickSize":5,"tickColor":"#000000","labelPadding":3,"labelFontSize":11,"labelColor":"#000000"}},"y2":{"field":"p2"}}},
{"data":{"values":[{"t":17.5},{"t":114.675}]},"mark":{"type":"rule","color":"#000000","strokeWidth":1},
 "encoding":{"x":{"field":"t","type":"quantitative","scale":{"domain":[-0.075,114.675],"nice":false,"zero":false,"padding":0},
  "axis":{"values":[5,17.5,33,61,89],"labelExpr":"datum.value == 5 ? '4/23' : datum.value == 17.5 ? '08:30' : datum.value == 33 ? '4/24' : datum.value == 61 ? '4/27' : '4/28'","title":null,"grid":false,"domain":false,"tickSize":3,"tickColor":"#000000","offset":4,"labelPadding":2,"labelFontSize":11,"labelColor":"#000000","labelFlush":false,"labelOverlap":false,"zindex":1}}}},
{"data":{"values":[{"p":-11}]},"mark":{"type":"rule","color":"#000000","strokeWidth":1},
 "encoding":{"y":{"field":"p","type":"quantitative","scale":{"domain":[-11,152.5],"nice":false,"zero":false},
  "axis":{"orient":"right","values":[0,100],"labelExpr":"datum.value == 0 ? '0' : datum.value + 'K'","labelBaseline":{"condition":{"test":"datum.value == 0","value":"top"},"value":"middle"},"title":null,"grid":false,"domain":false,"tickSize":5,"tickColor":"#000000","labelPadding":3,"labelFontSize":11,"labelColor":"#000000"}}}},
{"data":{"values":[{"x":0,"p":92.8,"s":"(FESX 06-15 (30 Min))"},{"x":0,"p":8.8,"s":"15 NinjaTrader, LLC"}]},
 "mark":{"type":"text","align":"left","baseline":"middle","fontSize":11,"color":"#2a2a2a","clip":true},
 "encoding":{"x":{"field":"x","type":"quantitative","scale":{"domain":[-0.075,114.675],"nice":false,"zero":false,"padding":0},
  "axis":{"values":[5,17.5,33,61,89],"labelExpr":"datum.value == 5 ? '4/23' : datum.value == 17.5 ? '08:30' : datum.value == 33 ? '4/24' : datum.value == 61 ? '4/27' : '4/28'","title":null,"grid":false,"domain":false,"tickSize":3,"tickColor":"#000000","offset":4,"labelPadding":2,"labelFontSize":11,"labelColor":"#000000","labelFlush":false,"labelOverlap":false,"zindex":1}},
 "y":{"field":"p","type":"quantitative","scale":{"domain":[-11,152.5],"nice":false,"zero":false},
  "axis":{"orient":"right","values":[0,100],"labelExpr":"datum.value == 0 ? '0' : datum.value + 'K'","labelBaseline":{"condition":{"test":"datum.value == 0","value":"top"},"value":"middle"},"title":null,"grid":false,"domain":false,"tickSize":5,"tickColor":"#000000","labelPadding":3,"labelFontSize":11,"labelColor":"#000000"}},"text":{"field":"s"}}},
{"data":{"name":"bars"},"transform":[{"filter":"isValid(datum.v)"}],
 "mark":{"type":"bar","size":2,"color":"#0000ff","clip":true},
 "encoding":{"x":{"field":"i","type":"quantitative","scale":{"domain":[-0.075,114.675],"nice":false,"zero":false,"padding":0},
  "axis":{"values":[5,17.5,33,61,89],"labelExpr":"datum.value == 5 ? '4/23' : datum.value == 17.5 ? '08:30' : datum.value == 33 ? '4/24' : datum.value == 61 ? '4/27' : '4/28'","title":null,"grid":false,"domain":false,"tickSize":3,"tickColor":"#000000","offset":4,"labelPadding":2,"labelFontSize":11,"labelColor":"#000000","labelFlush":false,"labelOverlap":false,"zindex":1}},
 "y":{"field":"v","type":"quantitative","scale":{"domain":[-11,152.5],"nice":false,"zero":false},
  "axis":{"orient":"right","values":[0,100],"labelExpr":"datum.value == 0 ? '0' : datum.value + 'K'","labelBaseline":{"condition":{"test":"datum.value == 0","value":"top"},"value":"middle"},"title":null,"grid":false,"domain":false,"tickSize":5,"tickColor":"#000000","labelPadding":3,"labelFontSize":11,"labelColor":"#000000"}},
 "y2":{"datum":0}}},
{"data":{"values":[{"x":119.55,"p":21.4}]},
 "mark":{"type":"point","shape":"M-1,0L-0.82,-0.35L1,-0.35L1,0.35L-0.82,0.35Z","filled":true,"fill":"#0000ff","stroke":"#000000","strokeWidth":1,"opacity":1,"size":1369,"clip":false},
 "encoding":{"x":{"field":"x","type":"quantitative","scale":{"domain":[-0.075,114.675],"nice":false,"zero":false,"padding":0},
  "axis":{"values":[5,17.5,33,61,89],"labelExpr":"datum.value == 5 ? '4/23' : datum.value == 17.5 ? '08:30' : datum.value == 33 ? '4/24' : datum.value == 61 ? '4/27' : '4/28'","title":null,"grid":false,"domain":false,"tickSize":3,"tickColor":"#000000","offset":4,"labelPadding":2,"labelFontSize":11,"labelColor":"#000000","labelFlush":false,"labelOverlap":false,"zindex":1}},
 "y":{"field":"p","type":"quantitative","scale":{"domain":[-11,152.5],"nice":false,"zero":false},
  "axis":{"orient":"right","values":[0,100],"labelExpr":"datum.value == 0 ? '0' : datum.value + 'K'","labelBaseline":{"condition":{"test":"datum.value == 0","value":"top"},"value":"middle"},"title":null,"grid":false,"domain":false,"tickSize":5,"tickColor":"#000000","labelPadding":3,"labelFontSize":11,"labelColor":"#000000"}}}},
{"data":{"values":[{"x":120.3,"p":21.4,"s":"18890"}]},
 "mark":{"type":"text","align":"center","baseline":"middle","fontSize":11,"color":"#ffffff","clip":false},
 "encoding":{"x":{"field":"x","type":"quantitative","scale":{"domain":[-0.075,114.675],"nice":false,"zero":false,"padding":0},
  "axis":{"values":[5,17.5,33,61,89],"labelExpr":"datum.value == 5 ? '4/23' : datum.value == 17.5 ? '08:30' : datum.value == 33 ? '4/24' : datum.value == 61 ? '4/27' : '4/28'","title":null,"grid":false,"domain":false,"tickSize":3,"tickColor":"#000000","offset":4,"labelPadding":2,"labelFontSize":11,"labelColor":"#000000","labelFlush":false,"labelOverlap":false,"zindex":1}},
 "y":{"field":"p","type":"quantitative","scale":{"domain":[-11,152.5],"nice":false,"zero":false},
  "axis":{"orient":"right","values":[0,100],"labelExpr":"datum.value == 0 ? '0' : datum.value + 'K'","labelBaseline":{"condition":{"test":"datum.value == 0","value":"top"},"value":"middle"},"title":null,"grid":false,"domain":false,"tickSize":5,"tickColor":"#000000","labelPadding":3,"labelFontSize":11,"labelColor":"#000000"}},"text":{"field":"s"}}}
]
}
]
}
